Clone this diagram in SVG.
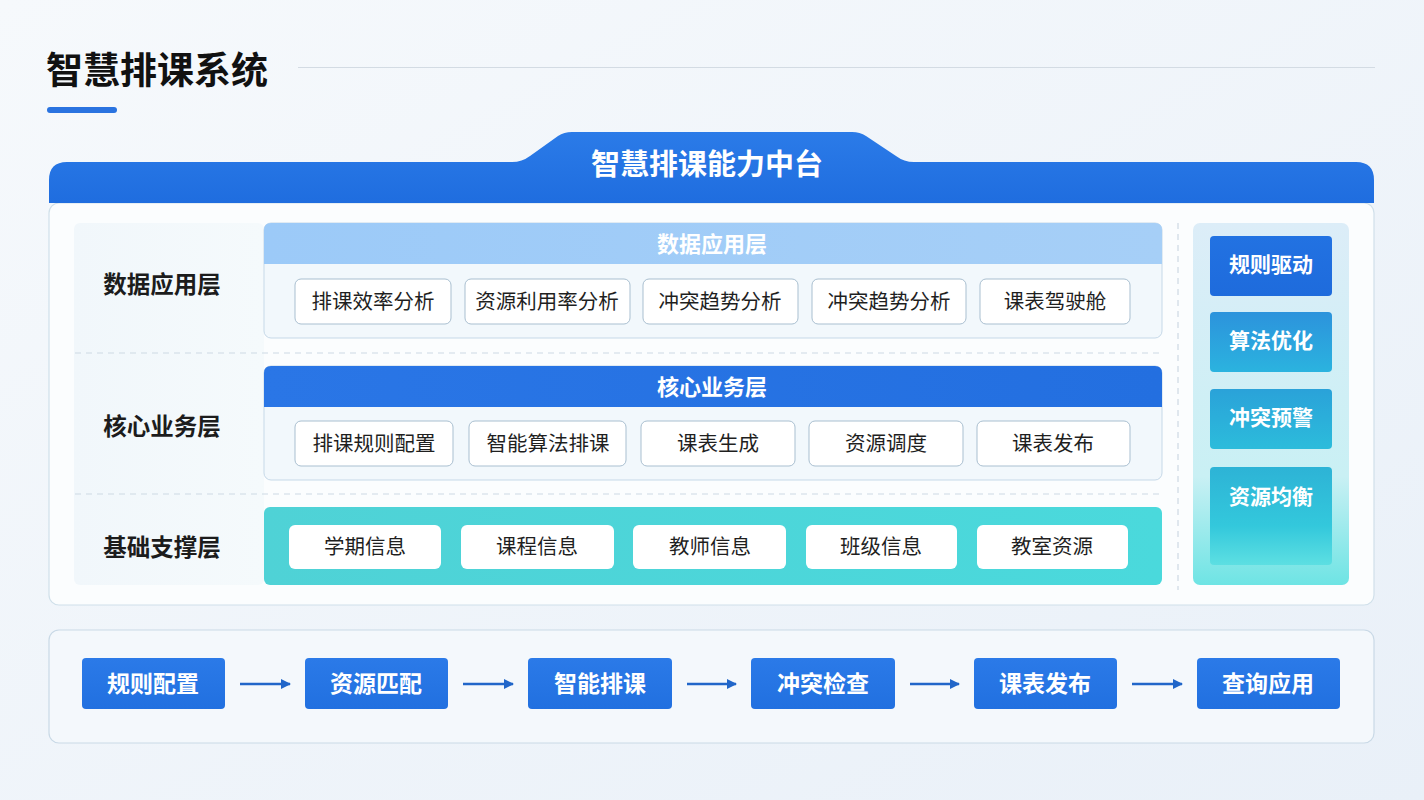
<svg xmlns="http://www.w3.org/2000/svg" width="1424" height="800" viewBox="0 0 1424 800">
<defs>
<style>
text{font-family:"Noto Sans CJK SC","Noto Sans",sans-serif;transform:translateY(-2px);}
.lbl{font-size:23.5px;font-weight:700;fill:#1c1c1c;text-anchor:middle;dominant-baseline:central;}
.item{fill:#ffffff;stroke:#a9bfd0;stroke-width:1;}
.itxt{font-size:20.5px;fill:#1f1f1f;text-anchor:middle;dominant-baseline:central;}
.wtxt{font-size:21px;font-weight:700;fill:#ffffff;text-anchor:middle;dominant-baseline:central;}
.htxt{font-size:22px;}
.ftxt{font-size:23px;}
.ttxt{font-size:29px;}
.flow{fill:url(#gFlow);}
.conn{stroke:#2166c9;stroke-width:2.5;fill:none;marker-end:url(#arr);}
.sep{stroke:#cdd9e3;stroke-width:1.2;stroke-dasharray:6 5;fill:none;}
</style>
<linearGradient id="gBg" x1="0" y1="0" x2="1" y2="1">
<stop offset="0" stop-color="#f6f9fc"/><stop offset="1" stop-color="#e9f0f8"/>
</linearGradient>
<linearGradient id="gHead" x1="0" y1="0" x2="0" y2="1">
<stop offset="0" stop-color="#2b7be8"/><stop offset="1" stop-color="#1f6ddf"/>
</linearGradient>
<linearGradient id="gLight" x1="0" y1="0" x2="1" y2="0">
<stop offset="0" stop-color="#9ccaf8"/><stop offset="1" stop-color="#a6cff7"/>
</linearGradient>
<linearGradient id="gCore" x1="0" y1="0" x2="1" y2="0">
<stop offset="0" stop-color="#2a76e6"/><stop offset="1" stop-color="#236fe0"/>
</linearGradient>
<linearGradient id="gTeal" x1="0" y1="0" x2="1" y2="0">
<stop offset="0" stop-color="#4fd2d6"/><stop offset="1" stop-color="#4ad9dc"/>
</linearGradient>
<linearGradient id="gLab" x1="0" y1="0" x2="1" y2="0">
<stop offset="0" stop-color="#f1f7fb"/><stop offset="1" stop-color="#f5fafc"/>
</linearGradient>
<linearGradient id="gSide" x1="0" y1="0" x2="0" y2="1">
<stop offset="0" stop-color="#dcedf8"/><stop offset="0.7" stop-color="#c9f0f4"/><stop offset="1" stop-color="#6ee4e4"/>
</linearGradient>
<linearGradient id="gS1" x1="0" y1="0" x2="0" y2="1">
<stop offset="0" stop-color="#2272e2"/><stop offset="1" stop-color="#1e6bdc"/>
</linearGradient>
<linearGradient id="gS2" x1="0" y1="0" x2="0" y2="1">
<stop offset="0" stop-color="#2c93dc"/><stop offset="1" stop-color="#2bb3df"/>
</linearGradient>
<linearGradient id="gS3" x1="0" y1="0" x2="0" y2="1">
<stop offset="0" stop-color="#2aa2d9"/><stop offset="1" stop-color="#2cbcdb"/>
</linearGradient>
<linearGradient id="gS4" x1="0" y1="0" x2="0" y2="1">
<stop offset="0" stop-color="#2db3d6"/><stop offset="0.6" stop-color="#33c8dc"/><stop offset="1" stop-color="#5ddfe2"/>
</linearGradient>
<linearGradient id="gFlow" x1="0" y1="0" x2="0" y2="1">
<stop offset="0" stop-color="#2b7ae8"/><stop offset="1" stop-color="#2170e0"/>
</linearGradient>
<marker id="arr" markerWidth="10" markerHeight="10" refX="9" refY="5" orient="auto" markerUnits="userSpaceOnUse">
<path d="M0,0 L10,5 L0,10 Z" fill="#2166c9"/>
</marker>
</defs>

<rect x="0" y="0" width="1424" height="800" fill="url(#gBg)"/>

<g id="title">
<text x="46" y="70" font-size="37" font-weight="700" fill="#111111" dominant-baseline="central">智慧排课系统</text>
<rect x="47" y="107" width="70" height="6" rx="3" fill="#2a73e0"/>
<line x1="298" y1="67.5" x2="1375" y2="67.5" stroke="#d3dbe3" stroke-width="1"/>
</g>

<g id="platform">
<rect x="49" y="203" width="1325" height="402" rx="10" fill="#fbfdfe" stroke="#d0e0ea" stroke-width="1.2"/>
<path d="M49,203 L49,180 Q49,162 67,162 L512,162 Q522,162 530,156 L558,136 Q564,132 572,132 L852,132 Q860,132 866,136 L896,156 Q904,162 914,162 L1356,162 Q1374,162 1374,180 L1374,203 Z" fill="url(#gHead)"/>
<text x="707" y="164" class="wtxt ttxt">智慧排课能力中台</text>
</g>

<g id="label-column">
<rect x="74" y="223" width="190" height="362" rx="6" fill="url(#gLab)"/>
<text x="162" y="285" class="lbl">数据应用层</text>
<text x="162" y="427" class="lbl">核心业务层</text>
<text x="162" y="548" class="lbl">基础支撑层</text>
</g>

<g id="separators">
<line x1="75" y1="353" x2="1162" y2="353" class="sep"/>
<line x1="75" y1="494" x2="1162" y2="494" class="sep"/>
<line x1="1178" y1="223" x2="1178" y2="590" class="sep"/>
</g>

<g id="layer-data">
<rect x="264" y="223" width="898" height="115" rx="7" fill="#f2f8fc" stroke="#c6d9e8" stroke-width="1"/>
<path d="M264,264 L264,230 Q264,223 271,223 L1155,223 Q1162,223 1162,230 L1162,264 Z" fill="url(#gLight)"/>
<text x="712" y="244" class="wtxt htxt">数据应用层</text>
<rect x="295" y="279" width="156" height="45" rx="6" class="item"/><text x="373" y="302" class="itxt">排课效率分析</text>
<rect x="465" y="279" width="165" height="45" rx="6" class="item"/><text x="547" y="302" class="itxt">资源利用率分析</text>
<rect x="643" y="279" width="155" height="45" rx="6" class="item"/><text x="720" y="302" class="itxt">冲突趋势分析</text>
<rect x="812" y="279" width="154" height="45" rx="6" class="item"/><text x="889" y="302" class="itxt">冲突趋势分析</text>
<rect x="980" y="279" width="150" height="45" rx="6" class="item"/><text x="1055" y="302" class="itxt">课表驾驶舱</text>
</g>

<g id="layer-core">
<rect x="264" y="366" width="898" height="114" rx="7" fill="#f2f8fc" stroke="#c6d9e8" stroke-width="1"/>
<path d="M264,407 L264,373 Q264,366 271,366 L1155,366 Q1162,366 1162,373 L1162,407 Z" fill="url(#gCore)"/>
<text x="712" y="387" class="wtxt htxt">核心业务层</text>
<rect x="295" y="421" width="158" height="45" rx="6" class="item"/><text x="374" y="444" class="itxt">排课规则配置</text>
<rect x="469" y="421" width="157" height="45" rx="6" class="item"/><text x="548" y="444" class="itxt">智能算法排课</text>
<rect x="641" y="421" width="154" height="45" rx="6" class="item"/><text x="718" y="444" class="itxt">课表生成</text>
<rect x="809" y="421" width="154" height="45" rx="6" class="item"/><text x="886" y="444" class="itxt">资源调度</text>
<rect x="977" y="421" width="153" height="45" rx="6" class="item"/><text x="1053" y="444" class="itxt">课表发布</text>
</g>

<g id="layer-base">
<rect x="264" y="507" width="898" height="78" rx="6" fill="url(#gTeal)"/>
<rect x="289" y="525" width="152" height="44" rx="6" fill="#ffffff"/><text x="365" y="547" class="itxt">学期信息</text>
<rect x="461" y="525" width="153" height="44" rx="6" fill="#ffffff"/><text x="537" y="547" class="itxt">课程信息</text>
<rect x="633" y="525" width="153" height="44" rx="6" fill="#ffffff"/><text x="710" y="547" class="itxt">教师信息</text>
<rect x="806" y="525" width="151" height="44" rx="6" fill="#ffffff"/><text x="881" y="547" class="itxt">班级信息</text>
<rect x="977" y="525" width="151" height="44" rx="6" fill="#ffffff"/><text x="1052" y="547" class="itxt">教室资源</text>
</g>

<g id="side-panel">
<rect x="1193" y="223" width="156" height="362" rx="7" fill="url(#gSide)"/>
<rect x="1210" y="236" width="122" height="60" rx="4" fill="url(#gS1)"/><text x="1271" y="265" class="wtxt">规则驱动</text>
<rect x="1210" y="312" width="122" height="60" rx="4" fill="url(#gS2)"/><text x="1271" y="341" class="wtxt">算法优化</text>
<rect x="1210" y="389" width="122" height="60" rx="4" fill="url(#gS3)"/><text x="1271" y="418" class="wtxt">冲突预警</text>
<rect x="1210" y="467" width="122" height="98" rx="4" fill="url(#gS4)"/><text x="1271" y="497" class="wtxt">资源均衡</text>
</g>

<g id="flow-panel">
<rect x="49" y="630" width="1325" height="113" rx="10" fill="#f4f8fc" stroke="#c9d9e6" stroke-width="1.2"/>
</g>

<g id="flow-1"><rect x="82" y="658" width="143" height="51" rx="4" class="flow"/><text x="153" y="684" class="wtxt ftxt">规则配置</text></g>
<g id="flow-2"><rect x="305" y="658" width="143" height="51" rx="4" class="flow"/><text x="376" y="684" class="wtxt ftxt">资源匹配</text></g>
<g id="flow-3"><rect x="528" y="658" width="144" height="51" rx="4" class="flow"/><text x="600" y="684" class="wtxt ftxt">智能排课</text></g>
<g id="flow-4"><rect x="751" y="658" width="144" height="51" rx="4" class="flow"/><text x="823" y="684" class="wtxt ftxt">冲突检查</text></g>
<g id="flow-5"><rect x="974" y="658" width="143" height="51" rx="4" class="flow"/><text x="1045" y="684" class="wtxt ftxt">课表发布</text></g>
<g id="flow-6"><rect x="1197" y="658" width="143" height="51" rx="4" class="flow"/><text x="1268" y="684" class="wtxt ftxt">查询应用</text></g>

<g id="connectors">
<line x1="240" y1="684" x2="290" y2="684" class="conn"/>
<line x1="463" y1="684" x2="513" y2="684" class="conn"/>
<line x1="687" y1="684" x2="736" y2="684" class="conn"/>
<line x1="910" y1="684" x2="959" y2="684" class="conn"/>
<line x1="1132" y1="684" x2="1182" y2="684" class="conn"/>
</g>
</svg>
